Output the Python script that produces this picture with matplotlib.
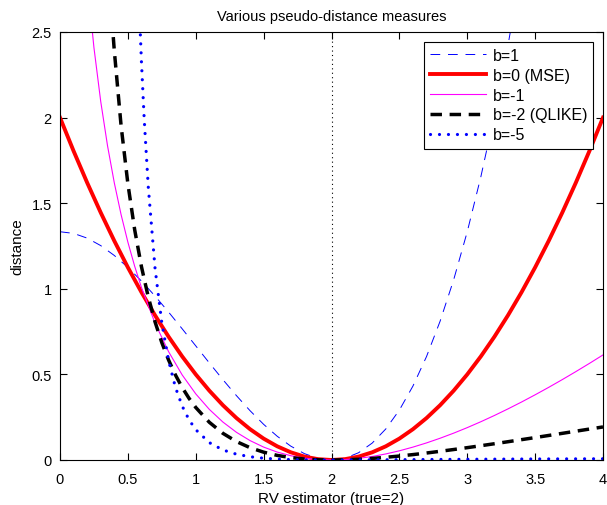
import matplotlib
matplotlib.use("Agg")
import matplotlib.pyplot as plt

plt.rcParams['font.family'] = ['Liberation Sans', 'DejaVu Sans']

# b = 1
x_b1 = [0, 0.1, 0.2, 0.3, 0.4, 0.5, 0.6, 0.7, 0.8, 0.9, 1.0, 1.1, 1.2, 1.3, 1.4, 1.5,
        1.6, 1.7, 1.8, 1.9, 2.0, 2.1, 2.2, 2.3, 2.4, 2.5, 2.6, 2.7, 2.8, 2.9, 3.0,
        3.1, 3.2, 3.3, 3.4]
y_b1 = [1.3333, 1.3237, 1.2960, 1.2523, 1.1947, 1.1250, 1.0453, 0.9577, 0.8640, 0.7663,
        0.6667, 0.5670, 0.4693, 0.3757, 0.2880, 0.2083, 0.1387, 0.0810, 0.0373, 0.0097,
        0.0, 0.0103, 0.0427, 0.0990, 0.1813, 0.2917, 0.4320, 0.6043, 0.8107, 1.0530,
        1.3333, 1.6537, 2.0160, 2.4223, 2.8743]

# b = 0 (MSE)
x_b0 = [0, 0.1, 0.2, 0.3, 0.4, 0.5, 0.6, 0.7, 0.8, 0.9, 1.0, 1.1, 1.2, 1.3, 1.4, 1.5,
        1.6, 1.7, 1.8, 1.9, 2.0, 2.1, 2.2, 2.3, 2.4, 2.5, 2.6, 2.7, 2.8, 2.9, 3.0,
        3.1, 3.2, 3.3, 3.4, 3.5, 3.6, 3.7, 3.8, 3.9, 4.0]
y_b0 = [2.0, 1.805, 1.62, 1.445, 1.28, 1.125, 0.98, 0.845, 0.72, 0.605, 0.5, 0.405,
        0.32, 0.245, 0.18, 0.125, 0.08, 0.045, 0.02, 0.005, 0.0, 0.005, 0.02, 0.045,
        0.08, 0.125, 0.18, 0.245, 0.32, 0.405, 0.5, 0.605, 0.72, 0.845, 0.98, 1.125,
        1.28, 1.445, 1.62, 1.805, 2.0]

# b = -1
x_bm1 = [0.2, 0.25, 0.3, 0.35, 0.4, 0.45, 0.5, 0.55, 0.6, 0.7, 0.8, 0.9, 1.0, 1.1, 1.2,
         1.3, 1.4, 1.5, 1.6, 1.7, 1.8, 1.9, 2.0, 2.1, 2.2, 2.3, 2.4, 2.5, 2.6, 2.7,
         2.8, 2.9, 3.0, 3.1, 3.2, 3.3, 3.4, 3.5, 3.6, 3.7, 3.8, 3.9, 4.0]
y_bm1 = [2.8052, 2.4089, 2.0942, 1.8359, 1.6189, 1.4333, 1.2726, 1.1320, 1.0079, 0.7996,
         0.6326, 0.4970, 0.3863, 0.2957, 0.2217, 0.1616, 0.1134, 0.0754, 0.0463, 0.0250,
         0.0107, 0.0026, 0.0, 0.0024, 0.0094, 0.0205, 0.0354, 0.0537, 0.0753, 0.0998,
         0.1271, 0.1569, 0.1891, 0.2235, 0.2600, 0.2985, 0.3387, 0.3808, 0.4244, 0.4696,
         0.5163, 0.5643, 0.6137]

# b = -2 (QLIKE)
x_bm2 = [0.35, 0.38, 0.4, 0.45, 0.5, 0.55, 0.6, 0.65, 0.7, 0.75, 0.8, 0.85, 0.9, 0.95,
         1.0, 1.1, 1.2, 1.3, 1.4, 1.5, 1.6, 1.7, 1.8, 1.9, 2.0, 2.1, 2.2, 2.3, 2.4, 2.5,
         2.6, 2.7, 2.8, 2.9, 3.0, 3.1, 3.2, 3.3, 3.4, 3.5, 3.6, 3.7, 3.8, 3.9, 4.0]
y_bm2 = [2.9713, 2.6024, 2.3906, 1.9528, 1.6137, 1.3454, 1.1294, 0.9530, 0.8073, 0.6858,
         0.5837, 0.4973, 0.4237, 0.3608, 0.3069, 0.2203, 0.1558, 0.1077, 0.0719, 0.0457,
         0.0269, 0.0140, 0.0058, 0.0013, 0.0, 0.0012, 0.0044, 0.0093, 0.0157, 0.0231,
         0.0316, 0.0408, 0.0508, 0.0612, 0.0721, 0.0834, 0.0950, 0.1068, 0.1189, 0.1310,
         0.1433, 0.1557, 0.1682, 0.1807, 0.1931]

# b = -5
x_bm5 = [0.58, 0.6, 0.62, 0.65, 0.7, 0.75, 0.8, 0.85, 0.9, 0.95, 1.0, 1.1, 1.2, 1.3,
         1.4, 1.5, 1.6, 1.7, 1.8, 1.9, 2.0, 2.1, 2.2, 2.4, 2.6, 2.8, 3.0, 3.5, 4.0]
y_bm5 = [2.7203, 2.3252, 1.9956, 1.5977, 1.1211, 0.8005, 0.5801, 0.4255, 0.3152, 0.2355,
         0.1771, 0.1015, 0.0586, 0.0338, 0.0191, 0.0104, 0.0053, 0.0024, 0.0009, 0.0002,
         0.0, 0.0001, 0.0005, 0.0014, 0.0024, 0.0034, 0.0042, 0.0060, 0.0072]

labels = ['b=1', 'b=0 (MSE)', 'b=-1', 'b=-2 (QLIKE)', 'b=-5']
x_ticks = [0, 0.5, 1, 1.5, 2, 2.5, 3, 3.5, 4]
x_ticklabels = ['0', '0.5', '1', '1.5', '2', '2.5', '3', '3.5', '4']
y_ticks = [0, 0.5, 1, 1.5, 2, 2.5]
y_ticklabels = ['0', '0.5', '1', '1.5', '2', '2.5']
true_value = 2

fig = plt.figure(figsize=(6.07, 5.06), dpi=100)
ax = fig.add_axes([60/607, 1 - 461/506, (603 - 60)/607, (461 - 33)/506])

ax.axvline(true_value, color='black', linestyle=(0, (1, 3)), linewidth=0.8, zorder=1)
ax.plot(x_b1, y_b1, color='blue', linestyle=(0, (10, 8)), linewidth=0.7, label=labels[0])
ax.plot(x_b0, y_b0, color='red', linestyle='-', linewidth=2.8, label=labels[1])
ax.plot(x_bm1, y_bm1, color='magenta', linestyle='-', linewidth=0.8, label=labels[2])
ax.plot(x_bm2, y_bm2, color='black', linestyle=(0, (3.3, 2.2)), linewidth=2.5, label=labels[3])
ax.plot(x_bm5, y_bm5, color='blue', linestyle=(0, (0.01, 2.8)), linewidth=2.3,
        dash_capstyle='round', label=labels[4])

ax.set_xlim(0, 4)
ax.set_ylim(0, 2.5)
ax.set_xticks(x_ticks)
ax.set_xticklabels(x_ticklabels)
ax.set_yticks(y_ticks)
ax.set_yticklabels(y_ticklabels)
ax.tick_params(direction='in', top=True, right=True, labelsize=10.5, length=5, width=0.8)
ax.tick_params(axis='x', pad=9)
ax.tick_params(axis='y', pad=6)
for s in ax.spines.values():
    s.set_linewidth(0.8)

ax.set_xlabel('RV estimator (true=2)', fontsize=11, labelpad=3)
ax.set_ylabel('distance', fontsize=11, labelpad=5)
ax.set_title('Various pseudo-distance measures', fontsize=10.5, pad=9)

leg = ax.legend(loc='upper right', fontsize=11.5, frameon=True, fancybox=False,
                edgecolor='black', framealpha=1, handlelength=3.5, borderaxespad=0.6,
                labelspacing=0.3, handletextpad=0.4, borderpad=0.4)
leg.get_frame().set_linewidth(0.8)

fig.savefig('out.png', dpi=100)
